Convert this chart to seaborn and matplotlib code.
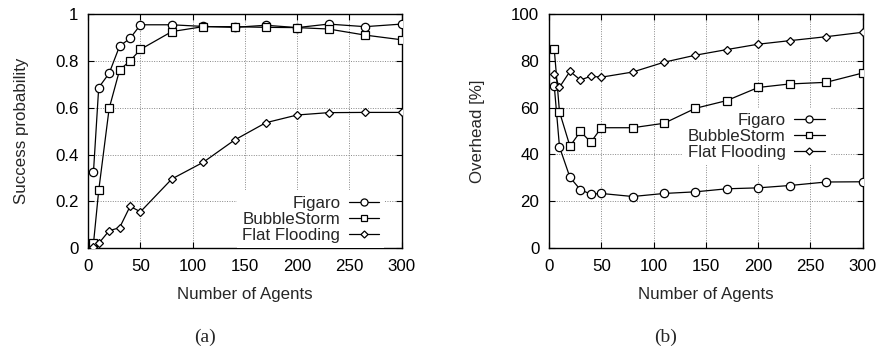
import numpy as np
import pandas as pd
import matplotlib
matplotlib.use("Agg")
import matplotlib.pyplot as plt
import seaborn as sns

# Number of agents sampled in the experiments
agents = [5, 10, 20, 30, 40, 50, 80, 110, 140, 170, 200, 230, 265, 300]

# (a) success probability
success_figaro = [0.327, 0.686, 0.747, 0.863, 0.896, 0.954, 0.954, 0.947, 0.943, 0.952, 0.942, 0.957, 0.946, 0.957]
success_bubblestorm = [0.021, 0.247, 0.597, 0.761, 0.800, 0.849, 0.925, 0.946, 0.946, 0.943, 0.942, 0.936, 0.910, 0.890]
success_flooding = [0.004, 0.021, 0.075, 0.088, 0.179, 0.156, 0.296, 0.367, 0.462, 0.536, 0.569, 0.579, 0.580, 0.580]

# (b) overhead in percent
overhead_figaro = [69.3, 43.2, 30.2, 24.9, 23.0, 23.3, 22.0, 23.3, 24.0, 25.3, 25.7, 26.7, 28.2, 28.3]
overhead_bubblestorm = [84.9, 58.2, 43.5, 49.8, 45.2, 51.4, 51.4, 53.3, 59.7, 63.0, 68.6, 70.1, 70.8, 74.8]
overhead_flooding = [74.4, 68.7, 75.5, 71.8, 73.4, 73.0, 75.2, 79.4, 82.4, 84.8, 87.1, 88.6, 90.3, 92.2]

series_names = ["Figaro", "BubbleStorm", "Flat Flooding"]
series_markers = {"Figaro": "o", "BubbleStorm": "s", "Flat Flooding": "D"}
series_msize = {"Figaro": 6.0, "BubbleStorm": 5.6, "Flat Flooding": 4.2}

x_ticks = [0, 50, 100, 150, 200, 250, 300]
success_ticks = [0, 0.2, 0.4, 0.6, 0.8, 1.0]
success_ticklabels = ["0", "0.2", "0.4", "0.6", "0.8", "1"]
overhead_ticks = [0, 20, 40, 60, 80, 100]
overhead_ticklabels = ["0", "20", "40", "60", "80", "100"]

FS = 12.2

sns.set_style("ticks")
plt.rcParams["font.family"] = ["Liberation Sans", "DejaVu Sans"]
plt.rcParams["font.size"] = FS

fig = plt.figure(figsize=(8.8, 3.52), dpi=100)
ax_a = fig.add_axes([0.1003, 0.2946, 0.3561, 0.6656])
ax_b = fig.add_axes([0.6239, 0.2955, 0.3565, 0.6647])


def draw_panel(ax, values, yticks, yticklabels, ylabel, legend_loc, legend_anchor):
    for name in series_names:
        df = pd.DataFrame({"agents": agents, "value": values[name]})
        sns.lineplot(data=df, x="agents", y="value", ax=ax, color="black",
                     linewidth=0.9, marker=series_markers[name],
                     markersize=series_msize[name], markerfacecolor="white",
                     markeredgecolor="black", markeredgewidth=0.9,
                     label=name, legend=False, zorder=3)
    ax.set_xlim(0, 300)
    ax.set_ylim(yticks[0], yticks[-1])
    ax.set_xticks(x_ticks)
    ax.set_xticklabels([str(t) for t in x_ticks])
    ax.set_yticks(yticks)
    ax.set_yticklabels(yticklabels)
    ax.grid(True, linestyle=(0, (1, 1.5)), color="#888888", linewidth=0.7)
    ax.set_axisbelow(True)
    for sp in ax.spines.values():
        sp.set_visible(True)
        sp.set_color("black")
        sp.set_linewidth(1.0)
    ax.tick_params(axis="both", direction="in", length=4, width=0.8,
                   top=True, right=True, labelsize=FS, colors="black")
    ax.tick_params(axis="x", pad=8)
    ax.tick_params(axis="y", pad=7)
    ax.set_xlabel("Number of Agents", fontsize=FS, labelpad=9)
    ax.set_ylabel(ylabel, fontsize=FS, labelpad=19)

    # markerfirst=False packs each row right-aligned: text, then line sample
    handles, labels = ax.get_legend_handles_labels()
    leg = ax.legend(handles, labels, loc=legend_loc, bbox_to_anchor=legend_anchor,
                    markerfirst=False, frameon=True, fontsize=FS,
                    handlelength=1.8, handletextpad=0.5, labelspacing=0.08,
                    borderpad=0.3, borderaxespad=0.0, fancybox=False,
                    markerscale=0.85)
    leg.get_frame().set_facecolor("white")
    leg.get_frame().set_edgecolor("none")
    leg.get_frame().set_alpha(1.0)
    # key box hides the grid but stays under the data lines
    leg.set_zorder(2.5)
    return leg


draw_panel(ax_a,
           {"Figaro": success_figaro, "BubbleStorm": success_bubblestorm,
            "Flat Flooding": success_flooding},
           success_ticks, success_ticklabels, "Success probability",
           "lower right", (0.945, 0.0))
draw_panel(ax_b,
           {"Figaro": overhead_figaro, "BubbleStorm": overhead_bubblestorm,
            "Flat Flooding": overhead_flooding},
           overhead_ticks, overhead_ticklabels, "Overhead [%]",
           "upper right", (0.895, 0.6))

fig.text(0.233, 0.043, "(a)", family=["Liberation Serif", "DejaVu Serif"],
         fontsize=14, ha="center", va="center")
fig.text(0.756, 0.043, "(b)", family=["Liberation Serif", "DejaVu Serif"],
         fontsize=14, ha="center", va="center")

fig.savefig("out.png", dpi=100)
